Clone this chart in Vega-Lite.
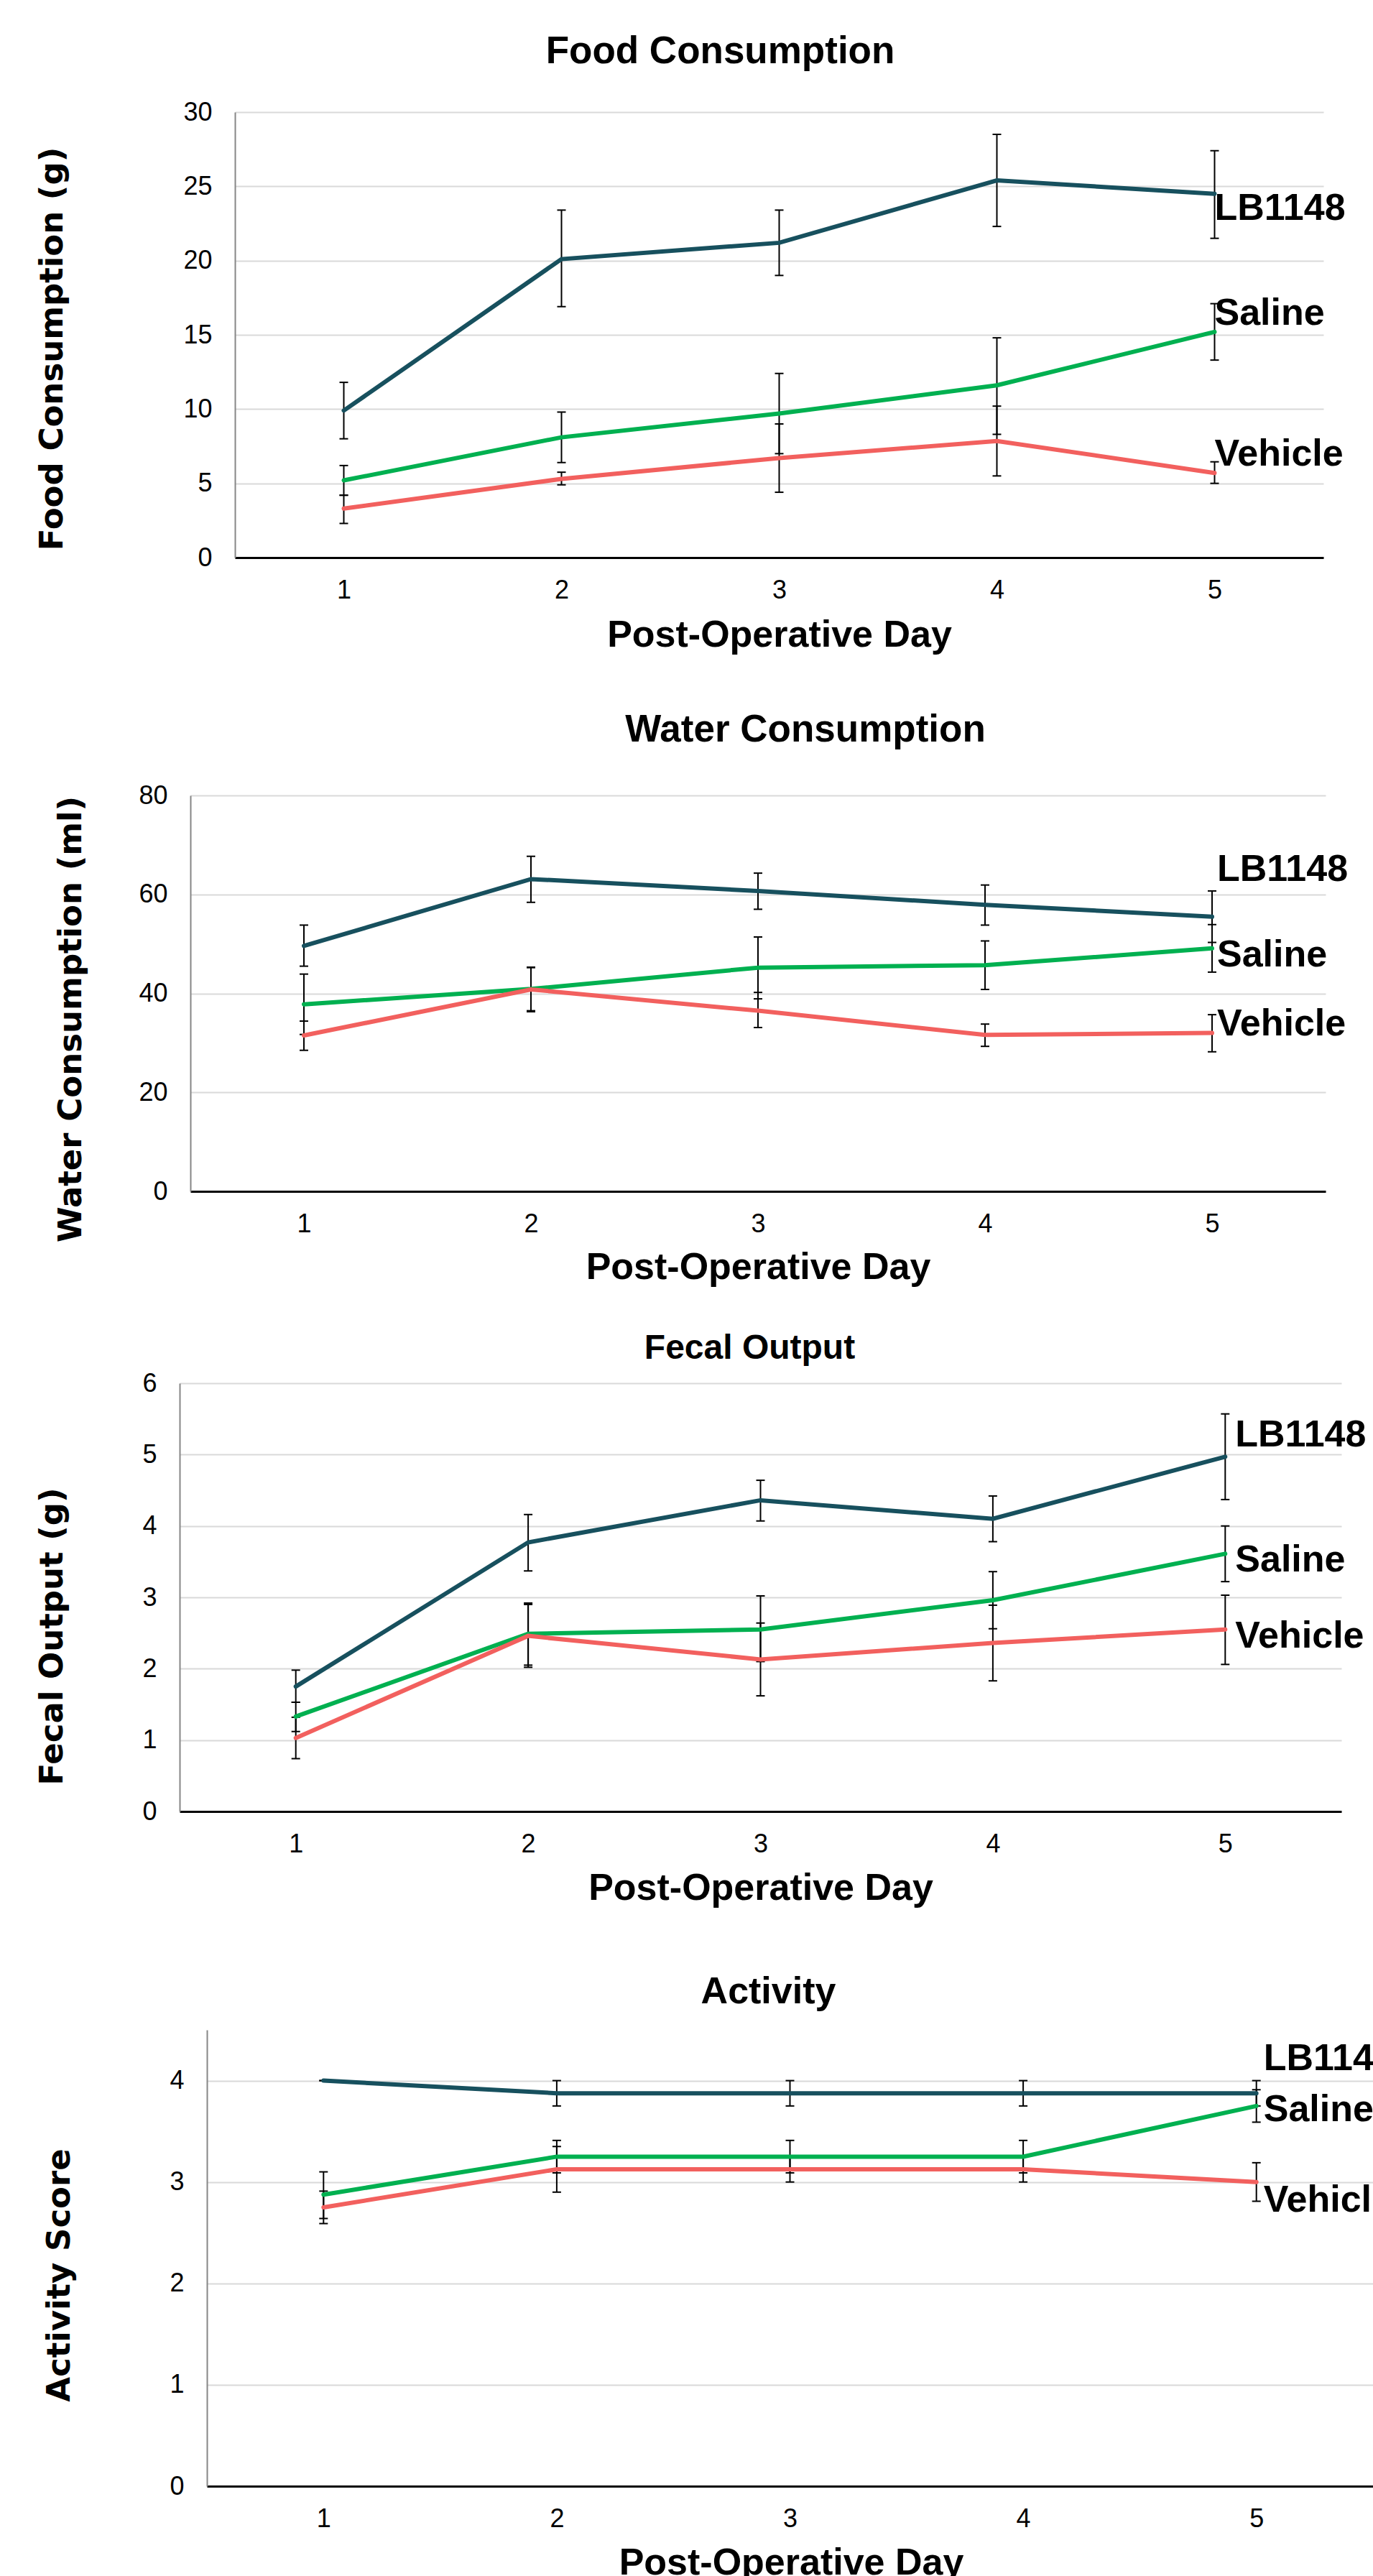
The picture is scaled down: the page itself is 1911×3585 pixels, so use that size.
{
  "$schema": "https://vega.github.io/schema/vega-lite/v6.json",
  "background": "white",
  "padding": {"left": 0, "top": 46, "right": 0, "bottom": 0},
  "spacing": 0,
  "datasets": {
    "food": [
      {"series": "LB1148", "day": 1, "mean": 9.9, "lo": 8.0, "hi": 11.8},
      {"series": "LB1148", "day": 2, "mean": 20.1, "lo": 16.9, "hi": 23.4},
      {"series": "LB1148", "day": 3, "mean": 21.2, "lo": 19.0, "hi": 23.4},
      {"series": "LB1148", "day": 4, "mean": 25.4, "lo": 22.3, "hi": 28.5},
      {"series": "LB1148", "day": 5, "mean": 24.5, "lo": 21.5, "hi": 27.4},
      {"series": "Saline", "day": 1, "mean": 5.2, "lo": 4.2, "hi": 6.2},
      {"series": "Saline", "day": 2, "mean": 8.1, "lo": 6.4, "hi": 9.8},
      {"series": "Saline", "day": 3, "mean": 9.7, "lo": 7.0, "hi": 12.4},
      {"series": "Saline", "day": 4, "mean": 11.6, "lo": 8.3, "hi": 14.8},
      {"series": "Saline", "day": 5, "mean": 15.2, "lo": 13.3, "hi": 17.1},
      {"series": "Vehicle", "day": 1, "mean": 3.3, "lo": 2.3, "hi": 4.2},
      {"series": "Vehicle", "day": 2, "mean": 5.3, "lo": 4.9, "hi": 5.75},
      {"series": "Vehicle", "day": 3, "mean": 6.7, "lo": 4.4, "hi": 9.0},
      {"series": "Vehicle", "day": 4, "mean": 7.85, "lo": 5.5, "hi": 10.2},
      {"series": "Vehicle", "day": 5, "mean": 5.7, "lo": 5.0, "hi": 6.45}
    ],
    "water": [
      {"series": "LB1148", "day": 1, "mean": 49.6, "lo": 45.5, "hi": 53.8},
      {"series": "LB1148", "day": 2, "mean": 63.1, "lo": 58.4, "hi": 67.7},
      {"series": "LB1148", "day": 3, "mean": 60.7, "lo": 57.0, "hi": 64.3},
      {"series": "LB1148", "day": 4, "mean": 57.9, "lo": 53.8, "hi": 61.9},
      {"series": "LB1148", "day": 5, "mean": 55.5, "lo": 50.3, "hi": 60.7},
      {"series": "Saline", "day": 1, "mean": 37.8, "lo": 31.7, "hi": 43.9},
      {"series": "Saline", "day": 2, "mean": 40.9, "lo": 36.5, "hi": 45.2},
      {"series": "Saline", "day": 3, "mean": 45.2, "lo": 38.9, "hi": 51.4},
      {"series": "Saline", "day": 4, "mean": 45.7, "lo": 40.8, "hi": 50.6},
      {"series": "Saline", "day": 5, "mean": 49.1, "lo": 44.3, "hi": 53.9},
      {"series": "Vehicle", "day": 1, "mean": 31.5, "lo": 28.5, "hi": 34.4},
      {"series": "Vehicle", "day": 2, "mean": 40.8, "lo": 36.3, "hi": 45.3},
      {"series": "Vehicle", "day": 3, "mean": 36.5, "lo": 33.1, "hi": 40.2},
      {"series": "Vehicle", "day": 4, "mean": 31.6, "lo": 29.3, "hi": 33.8},
      {"series": "Vehicle", "day": 5, "mean": 32.0, "lo": 28.2, "hi": 35.7}
    ],
    "fecal": [
      {"series": "LB1148", "day": 1, "mean": 1.75, "lo": 1.53, "hi": 1.98},
      {"series": "LB1148", "day": 2, "mean": 3.77, "lo": 3.37, "hi": 4.16},
      {"series": "LB1148", "day": 3, "mean": 4.36, "lo": 4.07, "hi": 4.64},
      {"series": "LB1148", "day": 4, "mean": 4.10, "lo": 3.78, "hi": 4.42},
      {"series": "LB1148", "day": 5, "mean": 4.97, "lo": 4.37, "hi": 5.57},
      {"series": "Saline", "day": 1, "mean": 1.33, "lo": 1.12, "hi": 1.53},
      {"series": "Saline", "day": 2, "mean": 2.49, "lo": 2.05, "hi": 2.92},
      {"series": "Saline", "day": 3, "mean": 2.55, "lo": 2.10, "hi": 3.02},
      {"series": "Saline", "day": 4, "mean": 2.96, "lo": 2.56, "hi": 3.36},
      {"series": "Saline", "day": 5, "mean": 3.61, "lo": 3.22, "hi": 4.00},
      {"series": "Vehicle", "day": 1, "mean": 1.03, "lo": 0.74, "hi": 1.32},
      {"series": "Vehicle", "day": 2, "mean": 2.46, "lo": 2.02, "hi": 2.90},
      {"series": "Vehicle", "day": 3, "mean": 2.13, "lo": 1.62, "hi": 2.64},
      {"series": "Vehicle", "day": 4, "mean": 2.36, "lo": 1.83, "hi": 2.89},
      {"series": "Vehicle", "day": 5, "mean": 2.55, "lo": 2.06, "hi": 3.03}
    ],
    "activity": [
      {"series": "LB1148", "day": 1, "mean": 4.0, "lo": 4.0, "hi": 4.0},
      {"series": "LB1148", "day": 2, "mean": 3.875, "lo": 3.75, "hi": 4.0},
      {"series": "LB1148", "day": 3, "mean": 3.875, "lo": 3.75, "hi": 4.0},
      {"series": "LB1148", "day": 4, "mean": 3.875, "lo": 3.75, "hi": 4.0},
      {"series": "LB1148", "day": 5, "mean": 3.875, "lo": 3.75, "hi": 4.0},
      {"series": "Saline", "day": 1, "mean": 2.875, "lo": 2.64, "hi": 3.1},
      {"series": "Saline", "day": 2, "mean": 3.25, "lo": 3.09, "hi": 3.41},
      {"series": "Saline", "day": 3, "mean": 3.25, "lo": 3.09, "hi": 3.41},
      {"series": "Saline", "day": 4, "mean": 3.25, "lo": 3.09, "hi": 3.41},
      {"series": "Saline", "day": 5, "mean": 3.75, "lo": 3.59, "hi": 3.91},
      {"series": "Vehicle", "day": 1, "mean": 2.75, "lo": 2.59, "hi": 2.91},
      {"series": "Vehicle", "day": 2, "mean": 3.125, "lo": 2.9, "hi": 3.35},
      {"series": "Vehicle", "day": 3, "mean": 3.125, "lo": 3.0, "hi": 3.25},
      {"series": "Vehicle", "day": 4, "mean": 3.125, "lo": 3.0, "hi": 3.25},
      {"series": "Vehicle", "day": 5, "mean": 3.0, "lo": 2.81, "hi": 3.19}
    ],
    "foodLabels": [
      {"series": "LB1148", "day": 5, "pos": 23.5},
      {"series": "Saline", "day": 5, "pos": 16.45},
      {"series": "Vehicle", "day": 5, "pos": 6.97}
    ],
    "waterLabels": [
      {"series": "LB1148", "day": 5, "pos": 65.0},
      {"series": "Saline", "day": 5, "pos": 47.8},
      {"series": "Vehicle", "day": 5, "pos": 33.8}
    ],
    "fecalLabels": [
      {"series": "LB1148", "day": 5, "pos": 5.28},
      {"series": "Saline", "day": 5, "pos": 3.52},
      {"series": "Vehicle", "day": 5, "pos": 2.46}
    ],
    "activityLabels": [
      {"series": "LB1148", "day": 5, "pos": 4.22},
      {"series": "Saline", "day": 5, "pos": 3.71},
      {"series": "Vehicle", "day": 5, "pos": 2.82}
    ]
  },
  "vconcat": [
    {
      "spacing": 0,
      "hconcat": [
        {"width": 49, "height": 834, "data": {"values": []}, "mark": "point"},
        {
          "width": 1515, "height": 620,
          "title": {"text": "Food Consumption", "fontSize": 53, "offset": 39, "dx": -82},
          "data": {"name": "food"},
          "encoding": {
            "x": {"field": "day", "type": "quantitative", "scale": {"domain": [0.5, 5.5], "nice": false, "zero": false},
                  "axis": {"values": [1, 2, 3, 4, 5], "title": "Post-Operative Day", "titleX": 757.5, "titleY": 123}}
          },
          "layer": [
            {"mark": {"type": "rule", "color": "black", "strokeWidth": 2},
             "encoding": {"y": {"field": "lo", "type": "quantitative", "scale": {"domain": [0, 30], "nice": false},
                                "axis": {"values": [0, 5, 10, 15, 20, 25, 30], "format": "d", "title": "Food Consumption (g)", "titleX": -232, "titleY": 329}},
                          "y2": {"field": "hi"}}},
            {"mark": {"type": "rule", "color": "black", "strokeWidth": 2, "xOffset": -6, "x2Offset": 6},
             "encoding": {"x2": {"field": "day"}, "y": {"field": "hi", "type": "quantitative", "title": "Food Consumption (g)"}}},
            {"mark": {"type": "rule", "color": "black", "strokeWidth": 2, "xOffset": -6, "x2Offset": 6},
             "encoding": {"x2": {"field": "day"}, "y": {"field": "lo", "type": "quantitative", "title": "Food Consumption (g)"}}},
            {"mark": {"type": "line", "strokeWidth": 6, "strokeCap": "round"},
             "encoding": {"y": {"field": "mean", "type": "quantitative", "title": "Food Consumption (g)"},
                          "color": {"field": "series", "type": "nominal", "legend": null}}},
            {"data": {"name": "foodLabels"},
             "mark": {"type": "text", "align": "left", "baseline": "middle", "dx": 0, "font": "Liberation Sans", "fontSize": 52, "fontWeight": "bold", "color": "black"},
             "encoding": {"y": {"field": "pos", "type": "quantitative", "title": "Food Consumption (g)"}, "text": {"field": "series"}}}
          ]
        }
      ]
    },
    {
      "spacing": 0,
      "hconcat": [
        {"width": 76, "height": 746, "data": {"values": []}, "mark": "point"},
        {
          "width": 1580, "height": 551,
          "title": {"text": "Water Consumption", "fontSize": 53, "offset": 46, "dx": 66},
          "data": {"name": "water"},
          "encoding": {
            "x": {"field": "day", "type": "quantitative", "scale": {"domain": [0.5, 5.5], "nice": false, "zero": false},
                  "axis": {"values": [1, 2, 3, 4, 5], "title": "Post-Operative Day", "titleX": 790, "titleY": 121}}
          },
          "layer": [
            {"mark": {"type": "rule", "color": "black", "strokeWidth": 2},
             "encoding": {"y": {"field": "lo", "type": "quantitative", "scale": {"domain": [0, 80], "nice": false},
                                "axis": {"values": [0, 20, 40, 60, 80], "format": "d", "title": "Water Consumption (ml)", "titleX": -144, "titleY": 311}},
                          "y2": {"field": "hi"}}},
            {"mark": {"type": "rule", "color": "black", "strokeWidth": 2, "xOffset": -6, "x2Offset": 6},
             "encoding": {"x2": {"field": "day"}, "y": {"field": "hi", "type": "quantitative", "title": "Water Consumption (ml)"}}},
            {"mark": {"type": "rule", "color": "black", "strokeWidth": 2, "xOffset": -6, "x2Offset": 6},
             "encoding": {"x2": {"field": "day"}, "y": {"field": "lo", "type": "quantitative", "title": "Water Consumption (ml)"}}},
            {"mark": {"type": "line", "strokeWidth": 6, "strokeCap": "round"},
             "encoding": {"y": {"field": "mean", "type": "quantitative", "title": "Water Consumption (ml)"},
                          "color": {"field": "series", "type": "nominal", "legend": null}}},
            {"data": {"name": "waterLabels"},
             "mark": {"type": "text", "align": "left", "baseline": "middle", "dx": 7, "font": "Liberation Sans", "fontSize": 52, "fontWeight": "bold", "color": "black"},
             "encoding": {"y": {"field": "pos", "type": "quantitative", "title": "Water Consumption (ml)"}, "text": {"field": "series"}}}
          ]
        }
      ]
    },
    {
      "spacing": 0,
      "hconcat": [
        {"width": 50, "height": 821, "data": {"values": []}, "mark": "point"},
        {
          "width": 1617, "height": 596,
          "title": {"text": "Fecal Output", "fontSize": 48, "offset": 6, "dx": -15},
          "data": {"name": "fecal"},
          "encoding": {
            "x": {"field": "day", "type": "quantitative", "scale": {"domain": [0.5, 5.5], "nice": false, "zero": false},
                  "axis": {"values": [1, 2, 3, 4, 5], "title": "Post-Operative Day", "titleX": 808.5, "titleY": 122}}
          },
          "layer": [
            {"mark": {"type": "rule", "color": "black", "strokeWidth": 2},
             "encoding": {"y": {"field": "lo", "type": "quantitative", "scale": {"domain": [0, 6], "nice": false},
                                "axis": {"values": [0, 1, 2, 3, 4, 5, 6], "format": "d", "title": "Fecal Output (g)", "titleX": -155, "titleY": 352}},
                          "y2": {"field": "hi"}}},
            {"mark": {"type": "rule", "color": "black", "strokeWidth": 2, "xOffset": -6, "x2Offset": 6},
             "encoding": {"x2": {"field": "day"}, "y": {"field": "hi", "type": "quantitative", "title": "Fecal Output (g)"}}},
            {"mark": {"type": "rule", "color": "black", "strokeWidth": 2, "xOffset": -6, "x2Offset": 6},
             "encoding": {"x2": {"field": "day"}, "y": {"field": "lo", "type": "quantitative", "title": "Fecal Output (g)"}}},
            {"mark": {"type": "line", "strokeWidth": 6, "strokeCap": "round"},
             "encoding": {"y": {"field": "mean", "type": "quantitative", "title": "Fecal Output (g)"},
                          "color": {"field": "series", "type": "nominal", "legend": null}}},
            {"data": {"name": "fecalLabels"},
             "mark": {"type": "text", "align": "left", "baseline": "middle", "dx": 14, "font": "Liberation Sans", "fontSize": 52, "fontWeight": "bold", "color": "black"},
             "encoding": {"y": {"field": "pos", "type": "quantitative", "title": "Fecal Output (g)"}, "text": {"field": "series"}}}
          ]
        }
      ]
    },
    {
      "spacing": 0,
      "hconcat": [
        {"width": 60, "height": 10, "data": {"values": []}, "mark": "point"},
        {
          "width": 1623, "height": 635,
          "title": {"text": "Activity", "fontSize": 52, "offset": 26, "dx": -30},
          "data": {"name": "activity"},
          "encoding": {
            "x": {"field": "day", "type": "quantitative", "scale": {"domain": [0.5, 5.5], "nice": false, "zero": false},
                  "axis": {"values": [1, 2, 3, 4, 5], "title": "Post-Operative Day", "titleX": 813, "titleY": 122}}
          },
          "layer": [
            {"mark": {"type": "rule", "color": "black", "strokeWidth": 2},
             "encoding": {"y": {"field": "lo", "type": "quantitative", "scale": {"domain": [0, 4.5], "nice": false},
                                "axis": {"values": [0, 1, 2, 3, 4], "format": "d", "title": "Activity Score", "titleX": -183, "titleY": 341}},
                          "y2": {"field": "hi"}}},
            {"mark": {"type": "rule", "color": "black", "strokeWidth": 2, "xOffset": -6, "x2Offset": 6},
             "encoding": {"x2": {"field": "day"}, "y": {"field": "hi", "type": "quantitative", "title": "Activity Score"}}},
            {"mark": {"type": "rule", "color": "black", "strokeWidth": 2, "xOffset": -6, "x2Offset": 6},
             "encoding": {"x2": {"field": "day"}, "y": {"field": "lo", "type": "quantitative", "title": "Activity Score"}}},
            {"mark": {"type": "line", "strokeWidth": 6, "strokeCap": "round"},
             "encoding": {"y": {"field": "mean", "type": "quantitative", "title": "Activity Score"},
                          "color": {"field": "series", "type": "nominal", "legend": null}}},
            {"data": {"name": "activityLabels"},
             "mark": {"type": "text", "align": "left", "baseline": "middle", "dx": 10, "clip": true, "font": "Liberation Sans", "fontSize": 52, "fontWeight": "bold", "color": "black"},
             "encoding": {"y": {"field": "pos", "type": "quantitative", "title": "Activity Score"}, "text": {"field": "series"}}}
          ]
        }
      ]
    }
  ],
  "config": {
    "view": {"stroke": null},
    "font": "Liberation Sans",
    "range": {"category": ["#17505E", "#00B050", "#F2605E"]},
    "title": {"font": "Liberation Sans", "fontWeight": "bold", "color": "#000000", "anchor": "middle", "frame": "group", "baseline": "bottom"},
    "axis": {"labelFont": "Liberation Sans", "labelFontSize": 36, "labelColor": "#000000", "ticks": false, "tickSize": 0, "titleColor": "#000000", "labelFlush": false, "labelOverlap": false},
    "axisX": {"grid": false, "domainColor": "#000000", "domainWidth": 3, "labelPadding": 28, "titleFont": "Liberation Sans", "titleFontSize": 52, "titleFontWeight": "bold", "titleBaseline": "alphabetic"},
    "axisY": {"grid": true, "gridColor": "#d9d9d9", "gridWidth": 2, "domainColor": "#868686", "domainWidth": 2, "labelPadding": 32, "titleFont": "DejaVu Sans", "titleFontSize": 45, "titleFontWeight": "bold", "titleAngle": -90, "titleBaseline": "bottom", "titleAlign": "center"}
  }
}
